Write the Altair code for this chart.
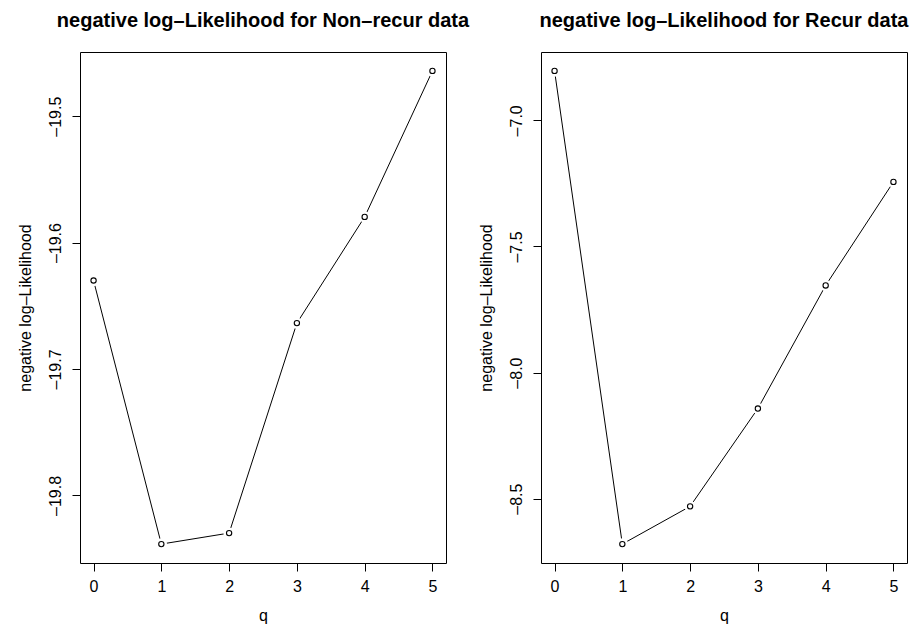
import altair as alt
import pandas as pd

# model order and fitted negative log-likelihoods
q_values = [0, 1, 2, 3, 4, 5]
nll_nonrecur = [-19.630, -19.8385, -19.8298, -19.6637, -19.5797, -19.4642]
nll_recur = [-6.804, -8.680, -8.5305, -8.1426, -7.6545, -7.244]

ticks_nonrecur = [-19.8, -19.7, -19.6, -19.5]
ticks_recur = [-8.5, -8.0, -7.5, -7.0]

title_nonrecur = "negative log–Likelihood for Non–recur data"
title_recur = "negative log–Likelihood for Recur data"
y_title = "negative log–Likelihood"
x_title = "q"

FONT = "Liberation Sans"
W, H = 366, 511


def padded(vals):
    # 4% range expansion on each side
    lo, hi = min(vals), max(vals)
    pad = 0.04 * (hi - lo)
    return [lo - pad, hi + pad]


def panel(values, ticks, title):
    df = pd.DataFrame({"q": q_values, "nll": values})
    x = alt.X(
        "q:Q",
        scale=alt.Scale(domain=padded(q_values), nice=False, zero=False),
        axis=alt.Axis(
            values=q_values,
            format="d",
            title=x_title,
            labelBaseline="alphabetic",
            labelPadding=20,
            titleX=W / 2,
            titleY=57,
            titleBaseline="alphabetic",
            titleAlign="center",
        ),
    )
    y = alt.Y(
        "nll:Q",
        scale=alt.Scale(domain=padded(values), nice=False, zero=False),
        axis=alt.Axis(
            values=ticks,
            labelExpr="'–' + format(abs(datum.value), '.1f')",
            labelAngle=-90,
            labelAlign="center",
            labelBaseline="alphabetic",
            labelPadding=12,
            title=y_title,
            titleAngle=-90,
            titleX=-50,
            titleY=H / 2,
            titleAlign="center",
            titleBaseline="alphabetic",
        ),
    )
    base = alt.Chart(df).encode(x=x, y=y)
    line = base.mark_line(color="black", strokeWidth=1)
    halo = base.mark_point(
        shape="circle", filled=True, color="white", opacity=1, size=130, strokeWidth=0
    )
    pts = base.mark_point(
        shape="circle", filled=False, color="black", opacity=1, size=28, strokeWidth=1.1
    )
    return alt.layer(line, halo, pts).properties(
        width=W,
        height=H,
        title=alt.TitleParams(
            text=title,
            font=FONT,
            fontSize=20,
            fontWeight="bold",
            color="black",
            anchor="middle",
            frame="group",
            baseline="alphabetic",
            offset=4.6,
        ),
    )


chart = (
    alt.hconcat(
        panel(nll_nonrecur, ticks_nonrecur, title_nonrecur),
        panel(nll_recur, ticks_recur, title_recur),
        spacing=95,
        bounds="flush",
    )
    .resolve_scale(x="independent", y="independent")
    .properties(padding={"left": 16, "top": 10, "right": 5, "bottom": 3}, background="white")
    .configure_view(stroke="black", strokeWidth=1)
    .configure_axis(
        labelFont=FONT,
        labelFontSize=16,
        labelColor="black",
        titleFont=FONT,
        titleFontSize=16,
        titleFontWeight="normal",
        titleColor="black",
        tickColor="black",
        tickSize=8,
        tickWidth=1,
        domain=False,
        grid=False,
    )
)

chart.save("out.html", embed_options={"renderer": "svg", "actions": False})
